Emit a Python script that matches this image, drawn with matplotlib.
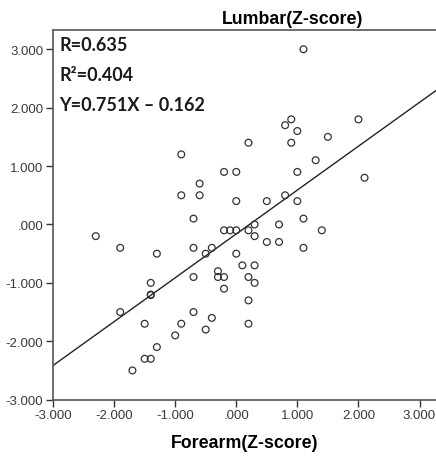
import matplotlib
matplotlib.use("Agg")
import matplotlib.pyplot as plt
from matplotlib.ticker import FuncFormatter

# forearm z-score (x) vs lumbar z-score (y)
forearm = [1.1, 0.9, 0.8, 1.0, 0.9, 1.5, 2.0, 0.2, -0.9, 1.3,
           -0.2, 0.0, 1.0, 2.1, -0.6, -0.9, -0.6, 0.8, 0.0, 0.5,
           1.0, -0.7, 1.1, 0.3, 0.7, -0.2, -0.1, 0.0, 0.2, 1.4,
           -2.3, 0.3, 0.5, 0.7, -1.9, -0.7, -0.4, 1.1, -1.3, -0.5,
           0.0, 0.1, 0.3, -0.3, -0.7, -0.3, -0.2, 0.2, -1.4, 0.3,
           -1.4, -1.4, -0.2, 0.2, -1.9, -0.7, -0.4, -1.5, -0.9, 0.2,
           -0.5, -1.0, -1.3, -1.5, -1.4, -1.7]
lumbar = [3.0, 1.8, 1.7, 1.6, 1.4, 1.5, 1.8, 1.4, 1.2, 1.1,
          0.9, 0.9, 0.9, 0.8, 0.7, 0.5, 0.5, 0.5, 0.4, 0.4,
          0.4, 0.1, 0.1, 0.0, 0.0, -0.1, -0.1, -0.1, -0.1, -0.1,
          -0.2, -0.2, -0.3, -0.3, -0.4, -0.4, -0.4, -0.4, -0.5, -0.5,
          -0.5, -0.7, -0.7, -0.8, -0.9, -0.9, -0.9, -0.9, -1.0, -1.0,
          -1.2, -1.21, -1.1, -1.3, -1.5, -1.5, -1.6, -1.7, -1.7, -1.7,
          -1.8, -1.9, -2.1, -2.3, -2.3, -2.5]

slope = 0.751
intercept = -0.162
stats_lines = ["R=0.635", "R\u00b2=0.404", "Y=0.751X \u2013 0.162"]
ticks = [-3, -2, -1, 0, 1, 2, 3]


def spss_fmt(v, pos):
    s = "%.3f" % v
    if s.startswith("0."):
        s = s[1:]
    if s == "-0.000":
        s = ".000"
    return s


fig = plt.figure(figsize=(4.36, 4.60), dpi=100)
ax = fig.add_axes([0.1216, 0.129, 0.8784, 0.8036])

ax.scatter(forearm, lumbar, s=24, facecolors="none", edgecolors="#333333",
           linewidths=0.9, zorder=3)

xlim = (-3, 3.27)
ax.plot(xlim, [slope * x + intercept for x in xlim], color="#222222", lw=1.0)

ax.set_xlim(*xlim)
ax.set_ylim(-3, 3.33)
ax.set_xticks(ticks)
ax.set_yticks(ticks)
ax.xaxis.set_major_formatter(FuncFormatter(spss_fmt))
ax.yaxis.set_major_formatter(FuncFormatter(spss_fmt))
ax.tick_params(direction="out", length=5, width=1, colors="#333333",
               labelsize=9.5, labelcolor="#3a3a3a", pad=2)
for lab in ax.get_xticklabels() + ax.get_yticklabels():
    lab.set_family("Liberation Sans")

for side in ["left", "bottom", "top"]:
    ax.spines[side].set_color("#555555")
    ax.spines[side].set_linewidth(1.2)
ax.spines["right"].set_visible(False)

ax.set_xlabel("Forearm(Z-score)", fontsize=12.8, fontweight="bold",
              family="Liberation Sans", labelpad=9)
fig.text(0.67, 0.958, "Lumbar(Z-score)", fontsize=12.8, fontweight="bold",
         family="Liberation Sans", ha="center", va="center")

for i, line in enumerate(stats_lines):
    ax.text(0.017, 0.985 - i * 0.082, line, transform=ax.transAxes,
            fontsize=13, fontweight="bold", family="Lato",
            color="#1a1a1a", va="top", ha="left")

fig.savefig("out.png", dpi=100)
